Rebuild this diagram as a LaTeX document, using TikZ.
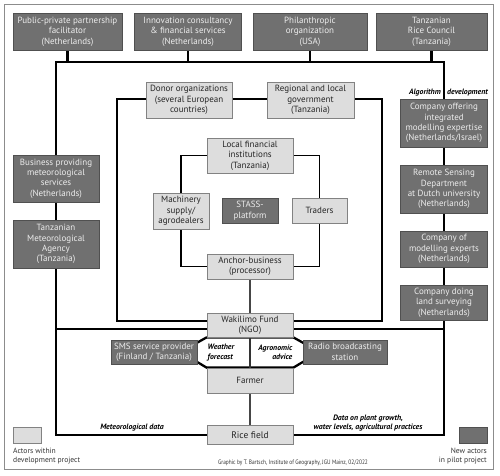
\documentclass[tikz,border=0pt]{standalone}
\usepackage{fontspec}
\setmainfont{PT Sans}
\usepackage{graphicx}
\pgfdeclarelayer{background}
\pgfsetlayers{background,main}
\definecolor{darkbox}{RGB}{112,112,112}
\definecolor{darkborder}{RGB}{80,80,80}
\definecolor{lightbox}{RGB}{221,221,221}
\definecolor{lightborder}{RGB}{130,130,130}
\definecolor{frameline}{RGB}{140,140,140}
\definecolor{midline}{RGB}{70,70,70}
\tikzset{
  box/.style={draw, line width=0.8pt, align=center, inner sep=0.5pt, font=\fontsize{9}{10.4}\selectfont},
  light/.style={box, fill=lightbox, draw=lightborder, text=black!85},
  dark/.style={box, fill=darkbox, draw=darkborder, text=white!93!black},
  lab/.style={font=\bfseries\itshape\fontsize{7.8}{9.2}\selectfont, inner sep=0pt},
  thickline/.style={line width=2.3pt, black},
  thinline/.style={line width=1.1pt, black},
  greyline/.style={line width=1.6pt, midline},
  small/.style={font=\fontsize{7.6}{9.6}\selectfont, text=black!80, inner sep=0pt}
}
\begin{document}
\begin{tikzpicture}[x=1pt,y=-1pt]
\useasboundingbox (0,0) rectangle (500,475);
\draw[frameline, line width=0.9pt] (4,4) rectangle (493,469);

% top row
\node[dark, minimum width=109pt, minimum height=37pt] (ppp) at (67.5,31.5) {Public-private partnership\\facilitator\\(Netherlands)};
\node[dark, minimum width=107pt, minimum height=37pt] (inno) at (188,31.5) {Innovation consultancy\\\& financial services\\(Netherlands)};
\node[dark, minimum width=114pt, minimum height=37pt] (phil) at (310,31.5) {Philanthropic\\organization\\(USA)};
\node[dark, minimum width=111pt, minimum height=37pt] (trc) at (431.5,31.5) {Tanzanian\\Rice Council\\(Tanzania)};

% left column
\node[dark, minimum width=86pt, minimum height=47pt] (bmet) at (56,178.5) {Business providing\\meteorological\\services\\(Netherlands)};
\node[dark, minimum width=86pt, minimum height=48pt] (tma) at (56,244) {Tanzanian\\Meteorological\\Agency\\(Tanzania)};

% right column
\node[dark, minimum width=87pt, minimum height=48pt] (cim) at (444,123) {Company offering\\integrated\\modelling expertise\\(Netherlands/Israel)};
\node[dark, minimum width=87pt, minimum height=48pt] (rsd) at (444,189) {Remote Sensing\\Department\\at Dutch university\\(Netherlands)};
\node[dark, minimum width=87pt, minimum height=36pt] (cme) at (444,249) {Company of\\modelling experts\\(Netherlands)};
\node[dark, minimum width=87pt, minimum height=35pt] (cls) at (444,302.5) {Company doing\\land surveying\\(Netherlands)};

% inner
\node[light, minimum width=86pt, minimum height=36pt] (donor) at (189,100) {Donor organizations\\(several European\\countries)};
\node[light, minimum width=87pt, minimum height=36pt] (regio) at (310.5,100) {Regional and local\\government\\(Tanzania)};
\node[light, minimum width=86pt, minimum height=35pt] (lfi) at (250,155.5) {Local financial\\institutions\\(Tanzania)};
\node[light, minimum width=56pt, minimum height=36pt] (mach) at (181,211) {Machinery\\supply/\\agrodealers};
\node[dark, minimum width=56pt, minimum height=25pt] (stass) at (250,210.5) {STASS-\\platform};
\node[light, minimum width=55pt, minimum height=25pt] (trad) at (319.5,210.5) {Traders};
\node[light, minimum width=86pt, minimum height=25pt] (anch) at (250,266.5) {Anchor-business\\(processor)};
\node[light, minimum width=86pt, minimum height=24pt] (wak) at (250,325) {Wakilimo Fund\\(NGO)};
\node[dark, minimum width=86pt, minimum height=24pt] (sms) at (154,352) {SMS service provider\\(Finland / Tanzania)};
\node[dark, minimum width=84pt, minimum height=24pt] (radio) at (345,352) {Radio broadcasting\\station};
\node[light, minimum width=86pt, minimum height=25pt] (farm) at (250,380.5) {Farmer};
\node[light, minimum width=86pt, minimum height=19pt, font=\fontsize{9.5}{10}\selectfont] (rice) at (250,435) {Rice field};

% legend
\node[light, minimum width=28pt, minimum height=16pt] (legl) at (27,435) {};
\node[dark, minimum width=28pt, minimum height=16pt] (legr) at (473,435) {};
\node[small, anchor=north west, align=left] (legltxt) at (13,447.5) {Actors within\\development project};
\node[small, anchor=north east, align=right] (legrtxt) at (487,447.5) {New actors\\in pilot project};
\node[small, font=\fontsize{6.4}{7}\selectfont] (credit) at (293,463) {\scalebox{0.84}[1]{Graphic by T. Bartsch, Institute of Geography, JGU Mainz, 02/2022}};

% labels
\node[lab, anchor=east] (alg) at (441,93) {Algorithm};
\node[lab, anchor=west] (dev) at (447,93) {development};
\node[lab] (metdata) at (132,428) {Meteorological data};
\node[lab, align=center] (pdata) at (368,423) {Data on plant growth,\\water levels, agricultural practices};

% frame coordinates
\coordinate (TL) at (56,62);
\coordinate (TR) at (444,62);
\coordinate (BL) at (56,435);
\coordinate (BR) at (444,435);
\coordinate (ML) at (56,329);
\coordinate (MR) at (444,329);
\coordinate (iTL) at (117,99);
\coordinate (iBR) at (382,321);

\begin{pgfonlayer}{background}
  % thick outer network
  \draw[thickline] (rice.west) -- (BL) -- (TL) -- (TR) -- (BR) -- (rice.east);
  \draw[thickline] (ppp.south) -- (ppp.south |- TL);
  \draw[thickline] (inno.south) -- (inno.south |- TL);
  \draw[thickline] (phil.south) -- (phil.south |- TL);
  \draw[thickline] (trc.south) -- (trc.south |- TL);
  \draw[thickline] (ML) -- (MR);
  % thin inner rectangle
  \draw[thinline] (iTL) rectangle (iBR);
  % inner-inner
  \draw[thinline] (lfi.west) -| (mach.north);
  \draw[thinline] (mach.south) |- (anch.west);
  \draw[thinline] (anch.east) -| (trad.south);
  \draw[thinline] (trad.north) |- (lfi.east);
  % grey links
  \draw[greyline] (anch.south) -- (wak.north);
  \draw[greyline] (farm.south) -- (rice.north);
  % hexagon info arrows
  \draw[line width=2.3pt, fill=white, line join=miter]
    (wak.south west) -- (wak.south east) -- ([xshift=17pt]sms.east -| radio.west) -- (farm.north east)
    -- (farm.north west) -- ([xshift=-17pt]sms.east) -- cycle;
  \draw[line width=1.2pt, black!80] (wak.south) -- (farm.north);
\end{pgfonlayer}

\node[lab, anchor=west, align=left] (wf) at (207.5,352.5) {Weather\\forecast};
\node[lab, anchor=east, align=right] (aa) at (292.5,352.5) {Agronomic\\advice};
\end{tikzpicture}
\end{document}
